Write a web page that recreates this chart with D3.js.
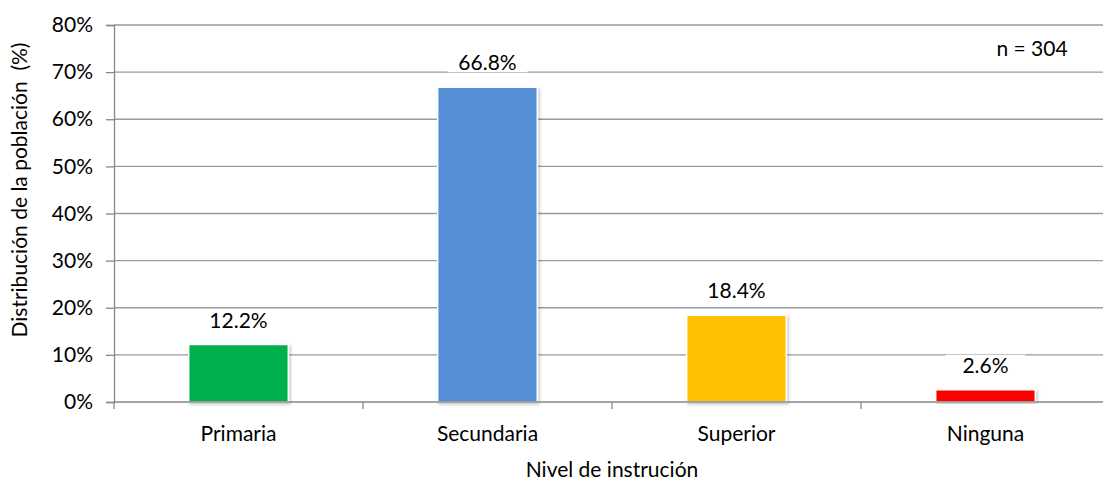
<!DOCTYPE html>
<html>
<head>
<meta charset="utf-8">
<script src="https://cdn.jsdelivr.net/npm/d3@7"></script>
<style>
  body { margin: 0; background: #fff; }
  text { font-family: Lato, "Open Sans", sans-serif; fill: #000; }
</style>
</head>
<body>
<svg id="chart" width="1103" height="482"></svg>
<script>
// data
const categories = ["Primaria", "Secundaria", "Superior", "Ninguna"]
const values = [12.2, 66.8, 18.4, 2.6]
const barColors = ["#00B050", "#558ED5", "#FFC000", "#FF0000"]
const yTicks = [0, 10, 20, 30, 40, 50, 60, 70, 80]
const sampleNote = "n = 304"

const plotLeft = 114, plotRight = 1110, plotTop = 25, plotBottom = 402
const fontSize = "21px"
let svg = d3.select("#chart")

let xScale = d3.scaleBand().domain(categories).range([plotLeft, plotRight]).paddingInner(0.6).paddingOuter(0.3)
let yScale = d3.scaleLinear().domain([0, 80]).range([plotBottom, plotTop])

// gridlines
svg.append("g").selectAll("line")
    .data(yTicks.slice(1))
    .enter().append("line")
    .attr("x1", plotLeft).attr("x2", plotRight)
    .attr("y1", d => yScale(d)).attr("y2", d => yScale(d))
    .attr("stroke", "#9a9a9a").attr("stroke-width", 1.3)

// shadow filter for bars
let defs = svg.append("defs")
let f = defs.append("filter").attr("id", "shadow").attr("x", "-10%").attr("y", "-10%").attr("width", "125%").attr("height", "125%")
f.append("feDropShadow").attr("dx", 1.5).attr("dy", 1.5).attr("stdDeviation", 1.5).attr("flood-color", "#000").attr("flood-opacity", 0.25)

// bars
svg.append("g").selectAll("rect")
    .data(values)
    .enter().append("rect")
    .attr("x", (d, i) => xScale(categories[i]))
    .attr("width", xScale.bandwidth())
    .attr("y", d => yScale(d))
    .attr("height", d => plotBottom - yScale(d))
    .attr("fill", (d, i) => barColors[i])
    .attr("stroke", "#fff").attr("stroke-width", 1.5)
    .attr("filter", "url(#shadow)")

// y axis
let y_axis = d3.axisLeft(yScale).tickValues(yTicks).tickFormat(d => d + "%").tickSize(8).tickPadding(13)
let gy = svg.append("g").attr("transform", `translate(${plotLeft},0)`).call(y_axis)
gy.select(".domain").attr("stroke", "#878787").attr("stroke-width", 1.3)
gy.selectAll(".tick line").attr("stroke", "#878787").attr("stroke-width", 1.3)
gy.selectAll("text").style("font-size", fontSize).attr("fill", "#000").attr("font-family", null)

// x axis (ticks between categories)
svg.append("line").attr("x1", plotLeft).attr("x2", plotRight).attr("y1", plotBottom).attr("y2", plotBottom)
    .attr("stroke", "#878787").attr("stroke-width", 1.3)
let boundaries = d3.range(categories.length + 1).map(i => plotLeft + i * (plotRight - plotLeft) / categories.length)
svg.append("g").selectAll("line")
    .data(boundaries)
    .enter().append("line")
    .attr("x1", d => d).attr("x2", d => d)
    .attr("y1", plotBottom).attr("y2", plotBottom + 7)
    .attr("stroke", "#878787").attr("stroke-width", 1.3)

svg.append("g").selectAll("text")
    .data(categories)
    .enter().append("text")
    .attr("x", d => xScale(d) + xScale.bandwidth() / 2)
    .attr("y", 441)
    .attr("text-anchor", "middle")
    .style("font-size", fontSize)
    .text(d => d)

// value labels with white boxes
let labels = svg.append("g").selectAll("g")
    .data(values)
    .enter().append("g")
    .attr("transform", (d, i) => `translate(${xScale(categories[i]) + xScale.bandwidth() / 2},${yScale(d) - 17})`)
labels.append("rect")
    .attr("x", -40).attr("y", -18).attr("width", 80).attr("height", 20)
    .attr("fill", "#fff")
labels.append("text")
    .attr("text-anchor", "middle")
    .style("font-size", fontSize)
    .text(d => d.toFixed(1) + "%")

// axis titles
svg.append("text")
    .attr("transform", `translate(27,190) rotate(270)`)
    .attr("text-anchor", "middle")
    .attr("xml:space", "preserve")
    .style("font-size", fontSize)
    .style("white-space", "pre")
    .text("Distribución de la población  (%)")

svg.append("text")
    .attr("x", (plotLeft + plotRight) / 2).attr("y", 477)
    .attr("text-anchor", "middle")
    .style("font-size", fontSize)
    .text("Nivel de instrución")

// sample size note
let noteG = svg.append("g").attr("transform", "translate(1032,56)")
noteG.append("rect").attr("x", -48).attr("y", -21).attr("width", 96).attr("height", 28).attr("fill", "#fff")
noteG.append("text").attr("text-anchor", "middle").style("font-size", fontSize).text(sampleNote)
</script>
</body>
</html>
